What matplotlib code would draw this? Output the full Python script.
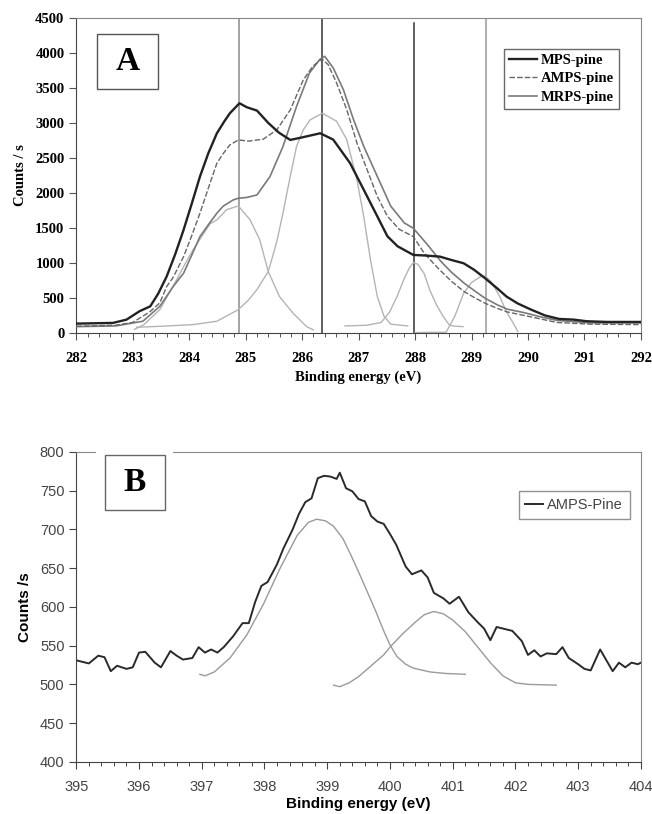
import numpy as np
import matplotlib.pyplot as plt
from matplotlib.patches import Rectangle
from matplotlib.ticker import MultipleLocator

# ---- panel A : C1s spectra ----
mps_e = [282.0, 282.65, 282.89, 283.12, 283.31, 283.45, 283.6, 283.75, 283.9, 284.05,
         284.19, 284.34, 284.49, 284.62, 284.72, 284.89, 285.02, 285.2, 285.4, 285.59,
         285.79, 286.01, 286.32, 286.55, 286.85, 287.15, 287.33, 287.51, 287.69, 287.97,
         288.2, 288.44, 288.63, 288.86, 289.04, 289.24, 289.45, 289.62, 289.82, 290.04,
         290.3, 290.55, 290.81, 291.04, 291.4, 292.0]
mps_c = [133, 143, 190, 310, 380, 560, 805, 1120, 1471, 1860,
         2233, 2570, 2852, 3020, 3138, 3281, 3224, 3176, 3000, 2860,
         2757, 2795, 2852, 2762, 2424, 1952, 1667, 1381, 1238, 1114,
         1105, 1090, 1045, 995, 905, 781, 640, 519, 420, 338,
         250, 200, 190, 167, 157, 157]

amps_e = [282.0, 282.7, 283.0, 283.3, 283.48, 283.6, 283.72, 283.9, 284.05, 284.19,
          284.37, 284.49, 284.6, 284.72, 284.87, 285.05, 285.31, 285.55, 285.79, 286.02,
          286.19, 286.35, 286.46, 286.61, 286.79, 286.97, 287.15, 287.33, 287.51, 287.72,
          287.97, 288.16, 288.4, 288.64, 288.87, 289.04, 289.24, 289.46, 289.63, 289.93,
          290.22, 290.51, 291.1, 292.0]
amps_c = [95, 110, 150, 300, 430, 661, 800, 1090, 1400, 1710,
          2143, 2424, 2560, 2686, 2757, 2740, 2767, 2900, 3186, 3614,
          3810, 3914, 3833, 3571, 3190, 2714, 2333, 1952, 1667, 1480,
          1376, 1140, 930, 740, 590, 510, 424, 350, 300, 250,
          200, 150, 125, 119]

mrps_e = [282.0, 282.7, 283.18, 283.48, 283.72, 283.9, 284.05, 284.19, 284.37, 284.49,
          284.6, 284.78, 284.87, 285.02, 285.2, 285.43, 285.66, 285.9, 286.13, 286.31,
          286.4, 286.55, 286.73, 286.91, 287.09, 287.33, 287.57, 287.81, 287.97, 288.22,
          288.46, 288.64, 288.87, 289.04, 289.24, 289.46, 289.63, 289.93, 290.22, 290.51,
          291.1, 292.0]
mrps_c = [90, 100, 167, 381, 667, 853, 1120, 1376, 1580, 1710,
          1810, 1900, 1924, 1935, 1971, 2233, 2662, 3233, 3714, 3905,
          3952, 3786, 3476, 3048, 2667, 2238, 1810, 1571, 1495, 1260,
          1020, 870, 710, 610, 495, 400, 340, 290, 230, 180,
          143, 143]

# fitted components (panel A)
fit1_e = [283.03, 283.2, 283.48, 283.78, 283.9, 284.07, 284.37, 284.49, 284.66, 284.87,
          285.08, 285.25, 285.4, 285.6, 285.84, 286.08, 286.2]
fit1_c = [50, 120, 333, 762, 948, 1190, 1560, 1614, 1760, 1814,
          1614, 1329, 876, 519, 281, 90, 43]
fit2_e = [283.07, 283.5, 284.07, 284.49, 284.87, 285.05, 285.2, 285.4, 285.55, 285.66,
          285.78, 285.9, 286.02, 286.14, 286.36, 286.61, 286.79, 286.97, 287.09, 287.21,
          287.33, 287.45, 287.57, 287.87]
fit2_c = [81, 95, 119, 167, 333, 470, 619, 876, 1300, 1710,
          2200, 2662, 2900, 3043, 3138, 3024, 2762, 2190, 1667, 1048,
          524, 238, 125, 100]
fit3_e = [286.76, 287.15, 287.4, 287.55, 287.68, 287.81, 287.9, 287.97, 288.05, 288.16,
          288.26, 288.38, 288.5, 288.61, 288.72, 288.85]
fit3_c = [100, 110, 150, 300, 519, 780, 930, 1005, 980, 850,
          614, 400, 233, 110, 95, 90]
fit4_e = [288.0, 288.3, 288.55, 288.7, 288.86, 289.0, 289.15, 289.24, 289.35, 289.5,
          289.62, 289.74, 289.82]
fit4_c = [5, 8, 10, 230, 567, 720, 800, 815, 730, 519, 300, 138, 20]

ref_lines = [284.88, 286.35, 287.99, 289.25]
ref_colors = ['#8a8a8a', '#333333', '#333333', '#9a9a9a']
ref_tops = [4500, 4500, 4430, 4500]

# ---- panel B : N1s spectrum ----
n_e = [395.0, 395.2, 395.35, 395.45, 395.55, 395.65, 395.8, 395.9, 396.0, 396.1,
       396.25, 396.35, 396.5, 396.6, 396.7, 396.85, 396.95, 397.05, 397.15, 397.25,
       397.35, 397.5, 397.65, 397.75, 397.85, 397.95, 398.05, 398.2, 398.3, 398.45,
       398.55, 398.65, 398.75, 398.85, 398.95, 399.05, 399.15, 399.2, 399.3, 399.4,
       399.5, 399.6, 399.7, 399.8, 399.9, 400.0, 400.1, 400.25, 400.35, 400.5,
       400.6, 400.7, 400.85, 400.95, 401.1, 401.25, 401.4, 401.5, 401.6, 401.7,
       401.85, 401.95, 402.1, 402.2, 402.3, 402.4, 402.5, 402.65, 402.75, 402.85,
       403.0, 403.1, 403.2, 403.35, 403.45, 403.55, 403.65, 403.75, 403.85, 403.95,
       404.0]
n_c = [531, 527, 537, 535, 517, 524, 520, 522, 541, 542,
       528, 522, 543, 537, 532, 534, 548, 541, 545, 541,
       548, 562, 579, 579, 606, 627, 632, 655, 675, 700,
       720, 735, 740, 766, 769, 768, 765, 773, 753, 749,
       739, 736, 717, 710, 707, 694, 680, 652, 642, 647,
       638, 618, 611, 604, 613, 593, 580, 572, 557, 574,
       571, 569, 556, 538, 544, 536, 540, 539, 548, 534,
       526, 520, 518, 545, 531, 517, 528, 522, 528, 526,
       528]
nfit1_e = [396.97, 397.05, 397.2, 397.45, 397.72, 397.98, 398.25, 398.52, 398.7, 398.83,
           398.97, 399.1, 399.25, 399.37, 399.5, 399.63, 399.77, 399.9, 400.0, 400.11,
           400.25, 400.37, 400.64, 400.9, 401.2]
nfit1_c = [513, 511, 516, 534, 564, 603, 650, 692, 709, 713,
           711, 704, 688, 668, 645, 621, 595, 569, 551, 536,
           526, 521, 516, 514, 513]
nfit2_e = [399.1, 399.2, 399.35, 399.5, 399.7, 399.9, 400.0, 400.2, 400.4, 400.55,
           400.7, 400.85, 401.0, 401.2, 401.4, 401.6, 401.8, 402.0, 402.2, 402.65]
nfit2_c = [499, 497, 502, 510, 524, 538, 548, 565, 580, 590,
           594, 591, 583, 568, 548, 528, 511, 502, 500, 499]

serif = 'Liberation Serif'
sans = 'Liberation Sans'

fig = plt.figure(figsize=(6.52, 8.14), dpi=100)

# ---------------- panel A ----------------
axA = fig.add_axes([0.117, 0.591, 0.866, 0.387])
for x, c, t in zip(ref_lines, ref_colors, ref_tops):
    axA.plot([x, x], [0, t], color=c, lw=1.1, zorder=1)
for fe, fc in [(fit1_e, fit1_c), (fit2_e, fit2_c), (fit3_e, fit3_c), (fit4_e, fit4_c)]:
    axA.plot(fe, fc, color='#b4b4b4', lw=1.0, zorder=2)
axA.plot(mrps_e, mrps_c, color='#7a7a7a', lw=1.2, label='MRPS-pine', zorder=3)
axA.plot(amps_e, amps_c, color='#666666', lw=1.0, ls=(0, (4, 1.5)), label='AMPS-pine', zorder=3)
axA.plot(mps_e, mps_c, color='#222222', lw=1.7, label='MPS-pine', zorder=4)

axA.set_xlim(282, 292)
axA.set_ylim(0, 4500)
axA.xaxis.set_major_locator(MultipleLocator(1))
axA.xaxis.set_minor_locator(MultipleLocator(0.2))
axA.yaxis.set_major_locator(MultipleLocator(500))
axA.tick_params(axis='both', which='major', direction='out', length=5, width=0.8,
                color='#555555', labelsize=10.5)
axA.tick_params(axis='x', which='minor', direction='out', length=3, width=0.7, color='#555555')
for lab in axA.get_xticklabels() + axA.get_yticklabels():
    lab.set_fontfamily(serif)
    lab.set_fontweight('bold')
axA.tick_params(axis='x', pad=9)
for s in axA.spines.values():
    s.set_color('#888888')
axA.spines['left'].set_color('#444444')
axA.spines['bottom'].set_color('#444444')
axA.set_xlabel('Binding energy (eV)', fontfamily=serif, fontweight='bold', fontsize=10.5, labelpad=4)
axA.set_ylabel('Counts / s', fontfamily=serif, fontweight='bold', fontsize=10.5, labelpad=6)

axA.add_patch(Rectangle((0.037, 0.775), 0.108, 0.174, transform=axA.transAxes,
                        fill=False, ec='#555555', lw=1.0, zorder=5))
axA.text(0.091, 0.862, 'A', transform=axA.transAxes, ha='center', va='center',
         fontfamily=serif, fontweight='bold', fontsize=24, zorder=5)

h, l = axA.get_legend_handles_labels()
order = [2, 1, 0]
legA = axA.legend([h[i] for i in order], [l[i] for i in order], loc='upper right',
                  bbox_to_anchor=(0.962, 0.902), frameon=True, fancybox=False,
                  edgecolor='#444444', handlelength=1.9, handletextpad=0.3,
                  labelspacing=0.35, borderpad=0.35, borderaxespad=0,
                  prop={'family': serif, 'weight': 'bold', 'size': 10.5})
legA.get_frame().set_linewidth(1.0)

# ---------------- panel B ----------------
axB = fig.add_axes([0.117, 0.064, 0.866, 0.381])
axB.plot(nfit1_e, nfit1_c, color='#9a9a9a', lw=1.0)
axB.plot(nfit2_e, nfit2_c, color='#9a9a9a', lw=1.0)
axB.plot(n_e, n_c, color='#2a2a2a', lw=1.4, label='AMPS-Pine')
axB.set_xlim(395, 404)
axB.set_ylim(400, 800)
axB.xaxis.set_major_locator(MultipleLocator(1))
axB.xaxis.set_minor_locator(MultipleLocator(0.2))
axB.yaxis.set_major_locator(MultipleLocator(50))
axB.tick_params(axis='both', which='major', direction='out', length=5, width=0.8,
                color='#444444', labelsize=10.5, labelcolor='#444444')
axB.tick_params(axis='x', which='minor', direction='out', length=3, width=0.7, color='#444444')
axB.tick_params(axis='x', pad=8)
for lab in axB.get_xticklabels() + axB.get_yticklabels():
    lab.set_fontfamily(sans)
axB.spines['top'].set_color('#888888')
axB.spines['right'].set_color('#888888')
axB.spines['left'].set_color('#444444')
axB.spines['bottom'].set_color('#444444')
axB.set_xlabel('Binding energy (eV)', fontfamily=sans, fontweight='bold', fontsize=11, labelpad=2)
axB.set_ylabel('Counts /s', fontfamily=sans, fontweight='bold', fontsize=11, labelpad=6)

# white gap in top frame above the B box
axB.plot([0.039, 0.168], [1.0, 1.0], transform=axB.transAxes, color='white', lw=3,
         clip_on=False, zorder=6)
axB.add_patch(Rectangle((0.05, 0.811), 0.107, 0.178, transform=axB.transAxes,
                        fill=False, ec='#666666', lw=1.0, zorder=5))
axB.text(0.103, 0.9, 'B', transform=axB.transAxes, ha='center', va='center',
         fontfamily=serif, fontweight='bold', fontsize=24, zorder=5)
legB = axB.legend(loc='upper right', bbox_to_anchor=(0.98, 0.872), frameon=True,
                  fancybox=False, edgecolor='#777777', handlelength=1.2, handletextpad=0.3,
                  borderpad=0.45, borderaxespad=0,
                  prop={'family': sans, 'size': 10.5})
legB.get_frame().set_linewidth(1.0)
for t in legB.get_texts():
    t.set_color('#444444')

fig.savefig('out.png', dpi=100)
